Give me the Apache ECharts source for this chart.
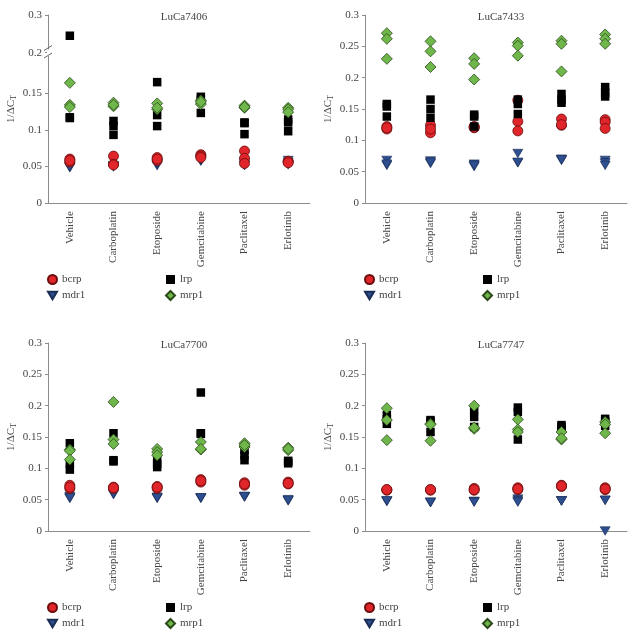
<!DOCTYPE html>
<html>
<head>
<meta charset="utf-8">
<script src="https://cdn.jsdelivr.net/npm/echarts@6/dist/echarts.min.js"></script>
<style>html,body{margin:0;padding:0;background:#fff}#c{width:639px;height:633px}</style>
</head>
<body>
<div id="c"></div>
<script>
const categories = ['Vehicle','Carboplatin','Etoposide','Gemcitabine','Paclitaxel','Erlotinib'];
const seriesNames = ['bcrp','mdr1','lrp','mrp1'];

// LuCa7406 (values per category, 3 replicates)
const luca7406_bcrp = [[0.060,0.056,0.058],[0.064,0.053,0.052],[0.062,0.058,0.060],[0.066,0.064,0.062],[0.071,0.061,0.054],[0.056,0.057,0.055]];
const luca7406_mdr1 = [[0.048,0.049,0.050],[0.049,0.050,0.051],[0.051,0.053,0.054],[0.057,0.058,0.059],[0.051,0.052,0.055],[0.052,0.055,0.058]];
const luca7406_lrp  = [[0.245,0.116,0.117],[0.112,0.105,0.093],[0.165,0.120,0.105],[0.145,0.141,0.123],[0.110,0.109,0.094],[0.114,0.110,0.098]];
const luca7406_mrp1 = [[0.164,0.134,0.131],[0.137,0.132,0.134],[0.136,0.128,0.130],[0.140,0.135,0.138],[0.133,0.130,0.131],[0.130,0.128,0.124]];

// LuCa7433
const luca7433_bcrp = [[0.122,0.118,0.120],[0.124,0.112,0.118],[0.122,0.120,0.121],[0.164,0.130,0.115],[0.134,0.124,0.125],[0.133,0.129,0.119]];
const luca7433_mdr1 = [[0.068,0.060,0.062],[0.067,0.063,0.065],[0.062,0.058,0.060],[0.079,0.064,0.065],[0.070,0.068,0.069],[0.068,0.064,0.060]];
const luca7433_lrp  = [[0.158,0.154,0.138],[0.165,0.150,0.136],[0.141,0.138,0.122],[0.165,0.158,0.142],[0.174,0.165,0.160],[0.185,0.176,0.170]];
const luca7433_mrp1 = [[0.271,0.262,0.230],[0.258,0.242,0.217],[0.231,0.222,0.197],[0.256,0.251,0.235],[0.259,0.254,0.210],[0.269,0.262,0.254]];

// LuCa7700
const luca7700_bcrp = [[0.073,0.068,0.070],[0.070,0.068,0.069],[0.071,0.068,0.070],[0.082,0.078,0.080],[0.077,0.073,0.075],[0.078,0.075,0.076]];
const luca7700_mdr1 = [[0.055,0.052,0.053],[0.063,0.058,0.060],[0.054,0.052,0.053],[0.053,0.052,0.053],[0.055,0.054,0.055],[0.050,0.048,0.049]];
const luca7700_lrp  = [[0.140,0.107,0.098],[0.156,0.113,0.111],[0.115,0.107,0.102],[0.221,0.156,0.155],[0.129,0.121,0.113],[0.112,0.108,0.110]];
const luca7700_mrp1 = [[0.130,0.128,0.114],[0.206,0.146,0.139],[0.131,0.126,0.121],[0.142,0.130,0.131],[0.140,0.134,0.137],[0.133,0.129,0.131]];

// LuCa7747
const luca7747_bcrp = [[0.066,0.065,0.066],[0.066,0.065,0.066],[0.068,0.065,0.066],[0.069,0.066,0.067],[0.073,0.071,0.072],[0.069,0.066,0.067]];
const luca7747_mdr1 = [[0.048,0.047,0.048],[0.046,0.045,0.046],[0.047,0.047,0.046],[0.051,0.048,0.046],[0.048,0.048,0.048],[0.049,0.000,0.049]];
const luca7747_lrp  = [[0.185,0.171,0.178],[0.177,0.158,0.175],[0.194,0.182,0.166],[0.197,0.190,0.146],[0.169,0.163,0.166],[0.179,0.168,0.175]];
const luca7747_mrp1 = [[0.196,0.177,0.145],[0.171,0.144,0.170],[0.200,0.163,0.165],[0.178,0.162,0.158],[0.158,0.146,0.148],[0.174,0.170,0.156]];

const panels = [
  {title:'LuCa7406', data:{bcrp:luca7406_bcrp, mdr1:luca7406_mdr1, lrp:luca7406_lrp, mrp1:luca7406_mrp1}, left:48, top:15, broken:true},
  {title:'LuCa7433', data:{bcrp:luca7433_bcrp, mdr1:luca7433_mdr1, lrp:luca7433_lrp, mrp1:luca7433_mrp1}, left:365, top:15},
  {title:'LuCa7700', data:{bcrp:luca7700_bcrp, mdr1:luca7700_mdr1, lrp:luca7700_lrp, mrp1:luca7700_mrp1}, left:48, top:343},
  {title:'LuCa7747', data:{bcrp:luca7747_bcrp, mdr1:luca7747_mdr1, lrp:luca7747_lrp, mrp1:luca7747_mrp1}, left:365, top:343}
];

const FONT = '"Liberation Serif", "DejaVu Serif", serif';
const AXIS_COLOR = '#8c8c8c';
const TEXT_COLOR = '#444';
const W = 262, H = 188;

const styles = {
  bcrp: {symbol:'circle', symbolSize:10, itemStyle:{color:'#e0262b', borderColor:'#6b0d0d', borderWidth:0.8, opacity:1}},
  mdr1: {symbol:'path://M0,0L10,0L5,8.6Z', symbolSize:[10,8.5], itemStyle:{color:'#2e4f8f', borderColor:'#1a2d55', borderWidth:0.6, opacity:1}},
  lrp:  {symbol:'rect', symbolSize:8.5, itemStyle:{color:'#000', borderColor:'#000', borderWidth:0, opacity:1}},
  mrp1: {symbol:'diamond', symbolSize:11, itemStyle:{color:'#70b74b', borderColor:'#2a4a1a', borderWidth:0.8, opacity:1}}
};

function toPoints(arr, keep) {
  const out = [];
  arr.forEach((vals, ci) => vals.forEach(v => { if (!keep || keep(v)) out.push([ci, v]); }));
  return out;
}

const grid = [], xAxis = [], yAxis = [], series = [], title = [], legend = [], graphic = [];

const xAxisBase = {
  type:'category', data:categories, boundaryGap:true,
  axisLine:{lineStyle:{color:AXIS_COLOR, width:1}},
  axisTick:{alignWithLabel:true, length:3, lineStyle:{color:AXIS_COLOR}},
  axisLabel:{rotate:90, interval:0, fontFamily:FONT, fontSize:11, color:TEXT_COLOR, margin:8},
  splitLine:{show:false}
};
const yAxisBase = {
  type:'value', splitLine:{show:false},
  axisLine:{show:true, lineStyle:{color:AXIS_COLOR, width:1}},
  axisTick:{show:true, length:3, lineStyle:{color:AXIS_COLOR}},
  axisLabel:{fontFamily:FONT, fontSize:11, color:TEXT_COLOR, margin:6}
};
const nameStyle = {
  fontFamily:FONT, fontSize:11, color:TEXT_COLOR, lineHeight:14,
  rich:{s:{fontFamily:FONT, fontSize:8, color:TEXT_COLOR, verticalAlign:'bottom', lineHeight:10}}
};

panels.forEach((p) => {
  const gMain = grid.length;
  let mainTop = p.top, mainH = H, mainMax = 0.3, mainInterval = 0.05;
  if (p.broken) {
    mainTop = p.top + 41.5; mainH = H - 41.5; mainMax = 0.2;
  }
  grid.push({left:p.left, top:mainTop, width:W, height:mainH, containLabel:false});
  xAxis.push(Object.assign({}, xAxisBase, {gridIndex:gMain}));
  yAxis.push(Object.assign({}, yAxisBase, {
    gridIndex:gMain, min:0, max:mainMax, interval:mainInterval,
    axisLabel:Object.assign({}, yAxisBase.axisLabel, {showMaxLabel: !p.broken}),
    name: p.broken ? '' : '1/ΔC{s|T}', nameLocation:'middle', nameGap:30, nameTextStyle:nameStyle
  }));

  let gUpper = null;
  if (p.broken) {
    gUpper = grid.length;
    grid.push({left:p.left, top:p.top, width:W, height:37.7});
    xAxis.push(Object.assign({}, xAxisBase, {gridIndex:gUpper, show:false}));
    yAxis.push(Object.assign({}, yAxisBase, {gridIndex:gUpper, min:0.2, max:0.3, interval:0.1}));
    // full-height helper axis carrying the axis name
    const gName = grid.length;
    grid.push({left:p.left, top:p.top, width:W, height:H});
    xAxis.push({type:'category', data:categories, gridIndex:gName, show:false});
    yAxis.push({type:'value', gridIndex:gName, min:0, max:0.3,
      axisLine:{show:false}, axisTick:{show:false}, axisLabel:{show:false}, splitLine:{show:false},
      name:'1/ΔC{s|T}', nameLocation:'middle', nameGap:30, nameTextStyle:nameStyle});
    // axis break marks
    [[50.5, 45.5],[58, 53]].forEach(([y1, y2]) => {
      graphic.push({type:'line', shape:{x1:p.left-4, y1:y1, x2:p.left+4, y2:y2},
        style:{stroke:'#666', lineWidth:1}, z:100});
    });
    graphic.push({type:'rect', shape:{x:p.left-1, y:49.5, width:2, height:5}, style:{fill:'#fff'}, z:99});
  }

  title.push({text:p.title, left:p.left + W/2, top:p.top - 8, textAlign:'center',
    textStyle:{fontFamily:FONT, fontSize:11, fontWeight:'normal', color:TEXT_COLOR}});

  ['mdr1','bcrp','lrp','mrp1'].forEach((name) => {
    const st = styles[name];
    const arr = p.data[name];
    if (p.broken) {
      series.push(Object.assign({type:'scatter', name, xAxisIndex:gMain, yAxisIndex:gMain, clip:false,
        data:toPoints(arr, v => v < 0.2)}, st));
      const up = toPoints(arr, v => v >= 0.2);
      if (up.length) series.push(Object.assign({type:'scatter', name, xAxisIndex:gUpper, yAxisIndex:gUpper, clip:false, data:up}, st));
    } else {
      series.push(Object.assign({type:'scatter', name, xAxisIndex:gMain, yAxisIndex:gMain, clip:false,
        data:toPoints(arr)}, st));
    }
  });

  const legTop = p.top + H + 71;
  const legBase = {orient:'vertical', itemWidth:9, itemHeight:9, itemGap:5, top:legTop,
    textStyle:{fontFamily:FONT, fontSize:11, color:TEXT_COLOR}, selectedMode:false, padding:0};
  legend.push(Object.assign({}, legBase, {left:p.left - 1, data:['bcrp','mdr1']}));
  legend.push(Object.assign({}, legBase, {left:p.left + 117, data:['lrp','mrp1']}));
});

const chart = echarts.init(document.getElementById('c'), null, {renderer:'canvas'});
chart.setOption({animation:false, backgroundColor:'#fff', grid, xAxis, yAxis, series, title, legend, graphic});
</script>
</body>
</html>
